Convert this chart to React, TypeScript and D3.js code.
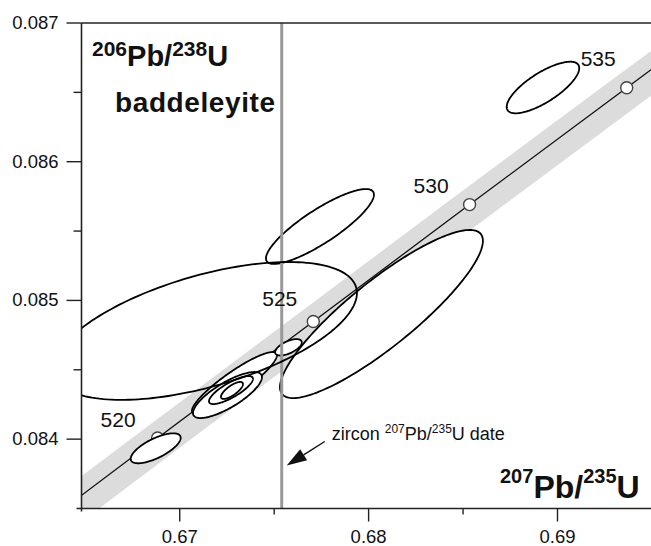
import * as d3 from 'd3'

// concordia reference points (Ma) and their ratios
const concordiaAges = [515, 520, 525, 530, 535, 540]
const concordiaX = [0.660632, 0.668829, 0.677072, 0.685346, 0.693664, 0.702026]
const concordiaY = [0.083167, 0.084008, 0.084848, 0.085691, 0.086533, 0.087376]
const labelledAges = [520, 525, 530, 535]
// decay-constant band, offsets along 207Pb/235U
const bandLeft = 0.00135
const bandRight = 0.00185

// analyses: centre, 2s half-widths, error correlation
const ellX = [0.671337, 0.680679, 0.677424, 0.68923, 0.672898, 0.672528, 0.672713, 0.672766, 0.675756, 0.668727]
const ellY = [0.08478, 0.084902, 0.085533, 0.086535, 0.084405, 0.084318, 0.084354, 0.084351, 0.084662, 0.083934]
const ellSx = [0.008045, 0.005372, 0.002858, 0.00192, 0.00225, 0.001826, 0.001164, 0.000582, 0.000704, 0.001323]
const ellSy = [0.000497, 0.000606, 0.00027, 0.000186, 0.000223, 0.000166, 0.000101, 0.0000613, 0.0000591, 0.000108]
const ellRho = [0.55, 0.87, 0.85, 0.75, 0.9, 0.78, 0.8, 0.75, 0.6, 0.7]
const ellFilled = [false, true, true, true, true, true, true, true, true, true]

const zirconDate = 0.6754
const arrowY = 0.08381

const xMajor = [0.67, 0.68, 0.69]
const xMajorLabels = ['0.67', '0.68', '0.69']
const xMinor = [0.675, 0.685]
const yMajor = [0.084, 0.085, 0.086, 0.087]
const yMajorLabels = ['0.084', '0.085', '0.086', '0.087']
const yMinor = [0.0845, 0.0855, 0.0865]

const W = 651
const H = 546
const font = "'Liberation Sans', Arial, Helvetica, sans-serif"

const App = () => {
    const x = d3.scaleLinear().domain([0.6648, 0.69495]).range([81.5, 651])
    const y = d3.scaleLinear().domain([0.0835, 0.087]).range([508.5, 23])
    const [x0, x1] = x.range()
    const [y0, y1] = y.range()

    const line = d3.line<[number, number]>()
    const closed = d3.line<[number, number]>().curve(d3.curveLinearClosed)

    const concordia = line(concordiaX.map((v, i) => [x(v), y(concordiaY[i])]))
    const bandPts: [number, number][] = [
        ...concordiaX.map((v, i) => [x(v - bandLeft), y(concordiaY[i])] as [number, number]),
        ...concordiaX.map((v, i) => [x(v + bandRight), y(concordiaY[i])] as [number, number]).reverse(),
    ]

    const angles = d3.range(0, 2 * Math.PI, Math.PI / 90)
    const ellipse = (i: number) => {
        const r = ellRho[i]
        const q = Math.sqrt(1 - r * r)
        return closed(angles.map(t => [
            x(ellX[i] + ellSx[i] * Math.cos(t)),
            y(ellY[i] + ellSy[i] * (r * Math.cos(t) + q * Math.sin(t))),
        ] as [number, number]))
    }

    const ageNudge: Record<number, [number, number]> = {
        520: [-22, -11], 525: [-16, -16], 530: [-21, -12], 535: [-11, -22],
    }

    const zx = x(zirconDate)
    const tip: [number, number] = [zx + 5, y(arrowY)]
    const tail: [number, number] = [tip[0] + 38, tip[1] - 24]
    const ang = Math.atan2(tail[1] - tip[1], tail[0] - tip[0])
    const hl = 20, hw = 6.5
    const hb: [number, number] = [tip[0] + hl * Math.cos(ang), tip[1] + hl * Math.sin(ang)]
    const head = closed([
        tip,
        [hb[0] - hw * Math.sin(ang), hb[1] + hw * Math.cos(ang)],
        [hb[0] + hw * Math.sin(ang), hb[1] - hw * Math.cos(ang)],
    ])

    return (
        <svg width={W} height={H} style={{ position: 'absolute', left: 0, top: 0, background: '#fff' }} fontFamily={font}>
            <defs>
                <clipPath id="plot">
                    <rect x={x0} y={y1} width={x1 - x0} height={y0 - y1} />
                </clipPath>
            </defs>
            <g clipPath="url(#plot)">
                <path d={closed(bandPts) as string} fill="#dcdcdc" />
                <path d={concordia as string} fill="none" stroke="#111" strokeWidth={1.3} />
                {labelledAges.map(a => {
                    const i = concordiaAges.indexOf(a)
                    return <circle key={a} cx={x(concordiaX[i])} cy={y(concordiaY[i])} r={6}
                        fill="#fff" stroke="#444" strokeWidth={1.4} />
                })}
                {ellX.map((_, i) => ellFilled[i] ? (
                    <path key={i} d={ellipse(i) as string} fill="#fff" stroke="#000" strokeWidth={1.8} />
                ) : null)}
                <line x1={zx} x2={zx} y1={y1} y2={y0} stroke="#999" strokeWidth={3} />
                {ellX.map((_, i) => !ellFilled[i] ? (
                    <path key={i} d={ellipse(i) as string} fill="none" stroke="#000" strokeWidth={1.8} />
                ) : null)}
            </g>

            {labelledAges.map(a => {
                const i = concordiaAges.indexOf(a)
                return <text key={a} x={x(concordiaX[i]) + ageNudge[a][0]} y={y(concordiaY[i]) + ageNudge[a][1]}
                    textAnchor="end" fontSize={21} fill="#111">{a}</text>
            })}

            {/* axes */}
            <line x1={x0} x2={x0} y1={y1} y2={y0 + 3} stroke="#222" strokeWidth={1.6} />
            <line x1={x0 - 5} x2={x1} y1={y0} y2={y0} stroke="#222" strokeWidth={1.6} />
            <line x1={x0} x2={x1} y1={y1} y2={y1} stroke="#222" strokeWidth={1.6} />
            {yMajor.map((v, i) => (
                <g key={v}>
                    <line x1={x0 - 15} x2={x0} y1={y(v)} y2={y(v)} stroke="#222" strokeWidth={1.4} />
                    <text x={x0 - 23} y={y(v) + 6} textAnchor="end" fontSize={18.5} fill="#111">{yMajorLabels[i]}</text>
                </g>
            ))}
            {yMinor.map(v => (
                <line key={v} x1={x0 - 8} x2={x0} y1={y(v)} y2={y(v)} stroke="#222" strokeWidth={1.4} />
            ))}
            {xMajor.map((v, i) => (
                <g key={v}>
                    <line x1={x(v)} x2={x(v)} y1={y0} y2={y0 + 13} stroke="#222" strokeWidth={1.4} />
                    <text x={x(v)} y={y0 + 34} textAnchor="middle" fontSize={18.5} fill="#111">{xMajorLabels[i]}</text>
                </g>
            ))}
            {xMinor.map(v => (
                <line key={v} x1={x(v)} x2={x(v)} y1={y0} y2={y0 + 6} stroke="#222" strokeWidth={1.4} />
            ))}

            {/* titles */}
            <text x={92} y={66} fontWeight="bold" fontSize={29} fill="#111">
                <tspan fontSize={21} dy={-10}>206</tspan>
                <tspan dy={10}>Pb/</tspan>
                <tspan fontSize={21} dy={-10}>238</tspan>
                <tspan dy={10}>U</tspan>
            </text>
            <text x={115} y={112} fontWeight="bold" fontSize={28} letterSpacing={0.6} fill="#111">baddeleyite</text>
            <text x={500} y={498} fontWeight="bold" fontSize={32} fill="#111">
                <tspan fontSize={20} dy={-15}>207</tspan>
                <tspan dy={15}>Pb/</tspan>
                <tspan fontSize={20} dy={-15}>235</tspan>
                <tspan dy={15}>U</tspan>
            </text>

            {/* zircon date marker */}
            <line x1={tail[0]} y1={tail[1]} x2={hb[0]} y2={hb[1]} stroke="#111" strokeWidth={1.4} />
            <path d={head as string} fill="#111" />
            <text x={zx + 50} y={tip[1] - 25} fontSize={18} fill="#111">
                zircon <tspan fontSize={12} dy={-7}>207</tspan><tspan dy={7}>Pb/</tspan><tspan fontSize={12} dy={-7}>235</tspan><tspan dy={7}>U date</tspan>
            </text>
        </svg>
    )
}

export default App
